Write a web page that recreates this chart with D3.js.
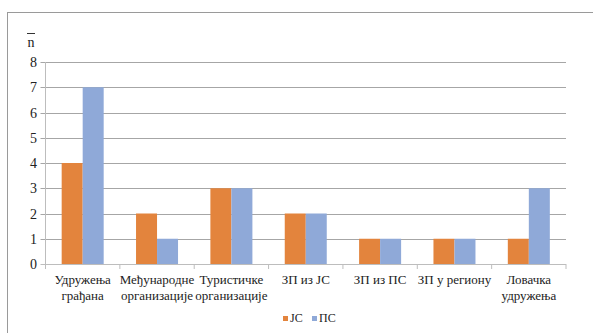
<!DOCTYPE html>
<html><head><meta charset="utf-8">
<script src="https://cdn.jsdelivr.net/npm/d3@7"></script>
<style>body{margin:0;background:#fff}svg{display:block}</style>
</head><body><svg id="c" width="593" height="333"></svg>
<script>
const categories = [["Удружења","грађана"],["Међународне","организације"],["Туристичке","организације"],["ЗП из JC"],["ЗП из ПС"],["ЗП у региону"],["Ловачка","удружења"]];
const seriesNames = ["JC","ПС"];
const jcValues = [4,2,3,2,1,1,1];
const psValues = [7,1,3,2,1,1,3];
const yTicks = [0,1,2,3,4,5,6,7,8];
const colors = ["#E3843D","#8FA9D8"];
const FONT = "Liberation Sans Narrow, Liberation Serif, DejaVu Serif, serif";

(function(){
const svg = d3.select("#c");
svg.append("rect").attr("x",7.5).attr("y",12.5).attr("width",600).attr("height",400)
  .attr("fill","none").attr("stroke","#9a9a9a").attr("stroke-width",1);

const pl=45.5, pr=566, pt=62, pb=264;
const x = d3.scaleBand().domain(d3.range(categories.length)).range([pl,pr]).padding(0);
const inner = d3.scaleBand().domain([0,1]).range([0,x.bandwidth()]).paddingInner(0).paddingOuter(0.77);
const y = d3.scaleLinear().domain([0,8]).range([pb,pt]);

svg.append("g").selectAll("line").data(yTicks.filter(d=>d>0)).join("line")
  .attr("x1",pl-5).attr("x2",pr).attr("y1",d=>Math.round(y(d))+0.5).attr("y2",d=>Math.round(y(d))+0.5)
  .attr("stroke","#a6a6a6");

const data = categories.map((c,i)=>[jcValues[i],psValues[i]]);
const g = svg.append("g");
data.forEach((vals,i)=>{
  vals.forEach((v,s)=>{
    g.append("rect").attr("x",x(i)+inner(s)).attr("width",inner.bandwidth())
      .attr("y",y(v)).attr("height",y(0)-y(v)).attr("fill",colors[s]);
  });
});

svg.append("line").attr("x1",pl).attr("x2",pl).attr("y1",pt).attr("y2",pb).attr("stroke","#bdbdbd");
svg.append("line").attr("x1",pl-5).attr("x2",pr).attr("y1",pb+0.5).attr("y2",pb+0.5).attr("stroke","#bdbdbd");
svg.append("g").selectAll("line").data(d3.range(categories.length+1)).join("line")
  .attr("x1",d=>pl+d*x.step()).attr("x2",d=>pl+d*x.step())
  .attr("y1",pb).attr("y2",pb+5).attr("stroke","#bdbdbd");

svg.append("g").selectAll("text").data(yTicks).join("text")
  .attr("x",37).attr("y",d=>y(d)+5).attr("text-anchor","end").style("font-size","14px").style("font-family",FONT).attr("fill","#222").text(d=>d);

svg.append("text").attr("x",31).attr("y",47).attr("text-anchor","middle").style("font-size","14px").style("font-family",FONT).attr("fill","#222").text("n");
svg.append("line").attr("x1",27).attr("x2",35).attr("y1",33.5).attr("y2",33.5).attr("stroke","#333");

const cl = svg.append("g");
categories.forEach((lines,i)=>{
  lines.forEach((t,j)=>{
    cl.append("text").attr("x",x(i)+x.bandwidth()/2).attr("y",284+j*16)
      .attr("text-anchor","middle").style("font-size","13px").style("font-family",FONT).attr("fill","#222").text(t);
  });
});

const lg = svg.append("g");
const lx=[283,312];
seriesNames.forEach((n,s)=>{
  lg.append("rect").attr("x",lx[s]).attr("y",316).attr("width",5).attr("height",5).attr("fill",colors[s]);
  lg.append("text").attr("x",lx[s]+7).attr("y",322).style("font-size","12px").style("font-family",FONT).attr("fill","#222").text(n);
});
})();
</script></body></html>
